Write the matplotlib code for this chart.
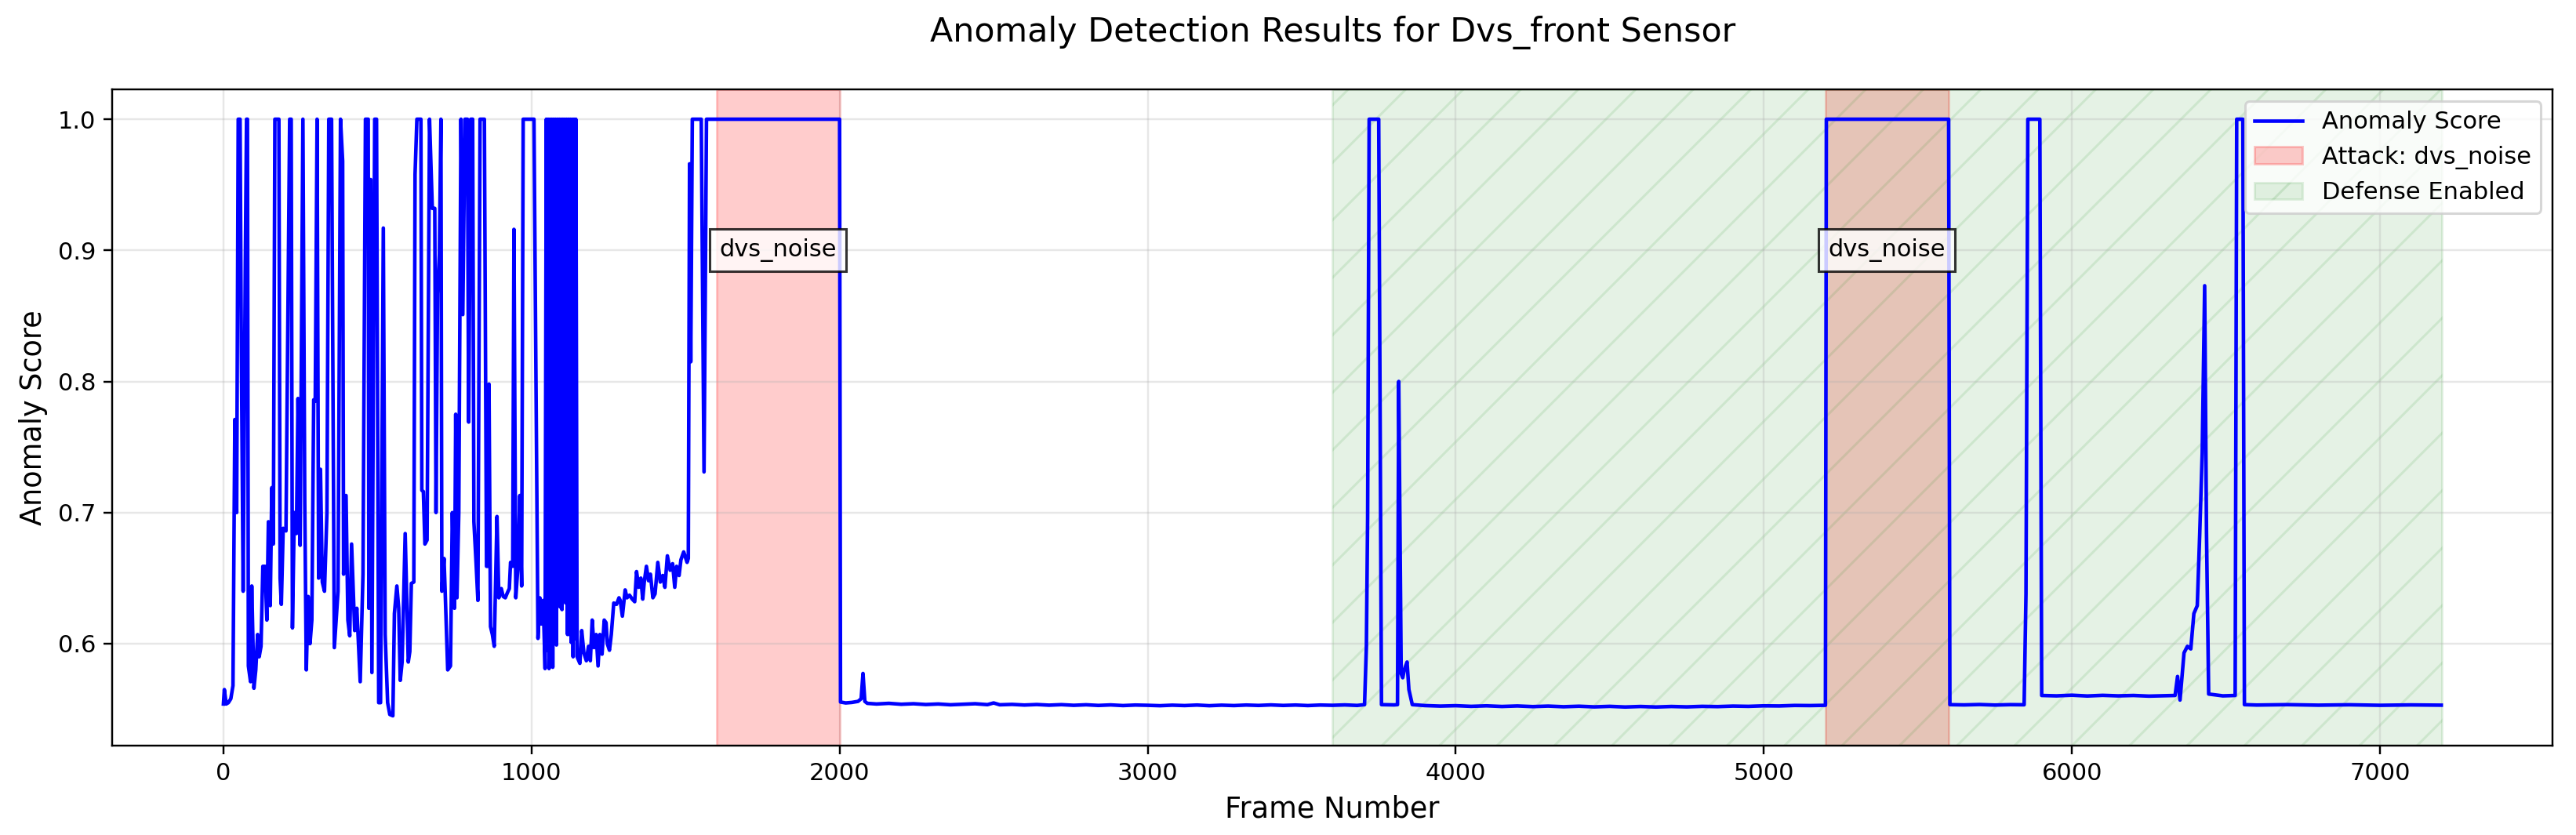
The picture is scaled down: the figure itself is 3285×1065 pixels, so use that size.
import matplotlib
matplotlib.use("Agg")
import matplotlib.pyplot as plt

# ---------------- data ----------------
frames_a = [0, 3, 9, 16, 24, 31, 37, 43, 48, 54, 58, 64, 71, 75, 78, 81, 88, 92, 99, 105,
            111, 116, 122, 128, 135, 141, 146, 152, 157, 162, 167, 180, 184, 188, 194, 203,
            215, 220, 224, 230, 237, 242, 249, 258, 264, 269, 275, 281, 287, 293, 298, 304,
            309, 315, 321, 328, 336, 342, 351, 360, 372, 380, 387, 390, 398, 404, 410, 416]
scores_a = [0.554, 0.565, 0.554, 0.555, 0.558, 0.568, 0.771, 0.700, 1.0, 1.0, 0.830, 0.640,
            0.890, 1.0, 1.0, 0.583, 0.571, 0.644, 0.566, 0.580, 0.607, 0.590, 0.598, 0.659,
            0.659, 0.618, 0.693, 0.629, 0.719, 0.676, 1.0, 1.0, 0.650, 0.630, 0.688, 0.686,
            1.0, 1.0, 0.612, 0.700, 0.684, 0.787, 0.675, 1.0, 0.708, 0.580, 0.636, 0.600,
            0.618, 0.786, 0.785, 1.0, 0.650, 0.733, 0.647, 0.640, 0.700, 1.0, 1.0, 0.597,
            0.640, 1.0, 0.968, 0.653, 0.713, 0.618, 0.606, 0.676]

frames_b = [426, 433, 444, 453, 461, 470, 472, 478, 482, 491, 497, 504, 510, 519, 525, 533,
            540, 550, 555, 563, 569, 574, 580, 590, 600, 605, 610, 618, 622, 628, 641, 644,
            649, 654, 661, 669, 678, 686, 690, 695, 701, 706, 709, 716, 720, 728, 737, 743,
            750, 754, 758, 764, 771, 777, 784, 792, 796, 803, 809, 813, 820, 826, 833, 847, 854]
scores_b = [0.610, 0.627, 0.571, 0.653, 1.0, 1.0, 0.627, 0.954, 0.578, 1.0, 1.0, 0.555,
            0.555, 0.917, 0.607, 0.555, 0.546, 0.545, 0.623, 0.644, 0.627, 0.572, 0.586,
            0.684, 0.586, 0.594, 0.646, 0.647, 0.958, 1.0, 1.0, 0.717, 0.716, 0.676, 0.679,
            1.0, 0.932, 0.932, 0.700, 0.867, 0.897, 1.0, 0.640, 0.665, 0.638, 0.580, 0.583,
            0.700, 0.627, 0.775, 0.635, 0.700, 1.0, 0.851, 1.0, 1.0, 0.769, 1.0, 1.0, 0.693,
            0.662, 0.633, 1.0, 1.0, 0.659]

frames_c = [858, 862, 867, 873, 879, 888, 894, 902, 908, 915, 922, 928, 932, 939, 943, 949,
            956, 962, 968, 973, 1008, 1021, 1027, 1032, 1038, 1044,
            1048, 1051, 1054, 1057, 1060, 1063, 1066, 1069, 1072, 1075, 1078, 1081, 1084,
            1087, 1090, 1093, 1096, 1099, 1102, 1105, 1108, 1111, 1114, 1117, 1120, 1123,
            1126, 1129, 1132, 1135, 1138, 1141, 1144, 1148, 1157, 1163, 1170, 1178, 1185,
            1191, 1197, 1203, 1210, 1216, 1222, 1229, 1236, 1242, 1246, 1253, 1259, 1267,
            1276, 1284]
scores_c = [0.659, 0.798, 0.613, 0.607, 0.598, 0.697, 0.635, 0.642, 0.636, 0.635, 0.639,
            0.642, 0.662, 0.659, 0.916, 0.635, 0.659, 0.713, 0.644, 1.0, 1.0, 0.604, 0.635,
            0.615, 0.633, 0.581,
            1.0, 0.595, 1.0, 0.581, 1.0, 0.597, 1.0, 0.582, 1.0, 0.640, 1.0, 0.599, 1.0,
            0.630, 1.0, 0.628, 1.0, 0.626, 1.0, 0.633, 1.0, 0.631, 1.0, 0.607, 1.0, 0.607,
            1.0, 0.601, 1.0, 0.590, 1.0, 0.604, 1.0, 0.590, 0.585, 0.610, 0.593, 0.587,
            0.598, 0.587, 0.618, 0.597, 0.607, 0.583, 0.607, 0.592, 0.618, 0.616, 0.600,
            0.595, 0.607, 0.631, 0.630, 0.635]

frames_d = [1288, 1295, 1304, 1310, 1318, 1327, 1335, 1341, 1348, 1355, 1361, 1366, 1373,
            1380, 1386, 1394, 1401, 1410, 1418, 1426, 1433, 1441, 1450, 1458, 1465, 1471,
            1479, 1485, 1494, 1505, 1509, 1513, 1517, 1522, 1551, 1560, 1568, 2000]
scores_d = [0.633, 0.621, 0.641, 0.635, 0.637, 0.634, 0.632, 0.655, 0.643, 0.650, 0.634,
            0.647, 0.659, 0.648, 0.653, 0.635, 0.638, 0.662, 0.647, 0.652, 0.643, 0.667,
            0.656, 0.661, 0.643, 0.659, 0.652, 0.664, 0.670, 0.662, 0.665, 0.966, 0.815,
            1.0, 1.0, 0.731, 1.0, 1.0]

frames_e = [2003, 2020, 2040, 2060, 2070, 2076, 2082, 2090, 2120, 2160, 2200, 2240, 2280,
            2320, 2360, 2400, 2440, 2480, 2500, 2520, 2560, 2600, 2640, 2680, 2720, 2760,
            2800, 2840, 2880, 2920, 2960, 3000, 3040, 3080, 3120, 3160, 3200, 3240, 3280,
            3320, 3360, 3400, 3440, 3480, 3520, 3560, 3600, 3640, 3680, 3704]
scores_e = [0.5555, 0.5548, 0.5552, 0.5560, 0.5580, 0.5773, 0.5560, 0.5545, 0.5540, 0.5545,
            0.5538, 0.5542, 0.5536, 0.5540, 0.5534, 0.5538, 0.5542, 0.5535, 0.5548, 0.5534,
            0.5537, 0.5532, 0.5536, 0.5531, 0.5535, 0.5530, 0.5534, 0.5529, 0.5533, 0.5528,
            0.5532, 0.5530, 0.5527, 0.5531, 0.5528, 0.5532, 0.5527, 0.5531, 0.5528, 0.5532,
            0.5529, 0.5533, 0.5529, 0.5532, 0.5528, 0.5532, 0.5530, 0.5533, 0.5529, 0.5535]

frames_f = [3710, 3714, 3719, 3750, 3759, 3800, 3811, 3815, 3823, 3828, 3833, 3842, 3848,
            3859, 3900, 3950, 4000, 4050, 4100, 4150, 4200, 4250, 4300, 4350, 4400, 4450,
            4500, 4550, 4600, 4650, 4700, 4750, 4800, 4850, 4900, 4950, 5000, 5050, 5100,
            5150, 5200]
scores_f = [0.598, 0.696, 1.0, 1.0, 0.5535, 0.5533, 0.5535, 0.800, 0.577, 0.574, 0.580,
            0.586, 0.565, 0.5535, 0.5528, 0.5524, 0.5527, 0.5522, 0.5526, 0.5521, 0.5525,
            0.5520, 0.5524, 0.5519, 0.5523, 0.5518, 0.5522, 0.5517, 0.5521, 0.5517, 0.5521,
            0.5518, 0.5522, 0.5520, 0.5524, 0.5522, 0.5526, 0.5525, 0.5529, 0.5528, 0.5530]

frames_g = [5203, 5600, 5604, 5650, 5700, 5750, 5800, 5845, 5851, 5857, 5896, 5902, 5950,
            6000, 6050, 6100, 6150, 6200, 6250, 6300, 6335, 6343, 6351, 6364, 6375, 6386,
            6396, 6407, 6415, 6423, 6431, 6437, 6444, 6490, 6530, 6535, 6555, 6560, 6600,
            6700, 6800, 6900, 7000, 7100, 7199]
scores_g = [1.0, 1.0, 0.5535, 0.5533, 0.5536, 0.5532, 0.5535, 0.5534, 0.638, 1.0, 1.0,
            0.5605, 0.5602, 0.5607, 0.5601, 0.5606, 0.5602, 0.5605, 0.5600, 0.5603, 0.5605,
            0.575, 0.557, 0.593, 0.598, 0.596, 0.623, 0.629, 0.684, 0.745, 0.873, 0.684,
            0.5616, 0.5602, 0.5605, 1.0, 1.0, 0.5535, 0.5532, 0.5535, 0.5531, 0.5534,
            0.5530, 0.5533, 0.5531]

attack_ranges = [(1600, 2000), (5200, 5600)]
attack_name = "dvs_noise"
defense_range = (3600, 7200)
label_y = 0.9

frames = frames_a + frames_b + frames_c + frames_d + frames_e + frames_f + frames_g
scores = scores_a + scores_b + scores_c + scores_d + scores_e + scores_f + scores_g

# ---------------- plot ----------------
DPI = 220
fig = plt.figure(figsize=(3285 / DPI, 1065 / DPI), dpi=DPI)
ax = fig.add_axes([0.04368, 0.10704, 0.99087 - 0.04368, 0.89296 - 0.10704])

ax.plot(frames, scores, color="blue", linewidth=1.5, label="Anomaly Score")

for i, (s, e) in enumerate(attack_ranges):
    ax.axvspan(s, e, color="red", alpha=0.2,
               label=f"Attack: {attack_name}" if i == 0 else None)
    ax.text((s + e) / 2, label_y, attack_name, ha="center", va="center",
            fontsize=10, bbox=dict(facecolor="white", alpha=0.8))

ax.axvspan(defense_range[0], defense_range[1], color="green", alpha=0.1,
           hatch="/", label="Defense Enabled")

ax.set_title("Anomaly Detection Results for Dvs_front Sensor", fontsize=14, pad=20)
ax.set_xlabel("Frame Number", fontsize=12)
ax.set_ylabel("Anomaly Score", fontsize=12)
ax.grid(True, alpha=0.3)
ax.legend(loc="upper right")

fig.savefig("out.png", dpi=DPI)
